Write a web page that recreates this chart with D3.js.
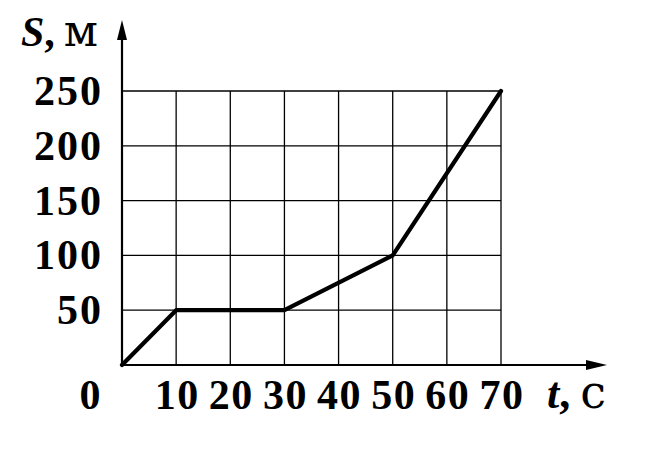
<!DOCTYPE html>
<html>
<head>
<meta charset="utf-8">
<script src="https://cdn.jsdelivr.net/npm/d3@7"></script>
<style>
html,body{margin:0;padding:0;background:#fff;}
text{font-family:"Liberation Serif","Times New Roman",serif;fill:#000;}
tspan.dv{font-family:"DejaVu Serif",serif;}
</style>
</head>
<body>
<svg id="chart" width="650" height="450"></svg>
<script>
const times = [0, 10, 30, 50, 70];
const distances = [0, 50, 50, 100, 250];
const xTicks = [10, 20, 30, 40, 50, 60, 70];
const yTicks = [50, 100, 150, 200, 250];

const svg = d3.select("#chart");
const x = d3.scaleLinear().domain([0, 70]).range([122, 501]);
const y = d3.scaleLinear().domain([0, 250]).range([365, 91]);

// grid
const g = svg.append("g").attr("stroke", "#000").attr("stroke-width", 1.3);
g.selectAll("line.v").data(xTicks).enter().append("line")
  .attr("x1", d => x(d)).attr("x2", d => x(d))
  .attr("y1", y(0)).attr("y2", y(250));
g.selectAll("line.h").data(yTicks).enter().append("line")
  .attr("x1", x(0)).attr("x2", x(70))
  .attr("y1", d => y(d)).attr("y2", d => y(d));

// axes with arrows
const ax = svg.append("g").attr("stroke", "#000").attr("stroke-width", 2.2);
ax.append("line").attr("x1", x(0)).attr("x2", 595).attr("y1", y(0)).attr("y2", y(0));
ax.append("line").attr("x1", x(0)).attr("x2", x(0)).attr("y1", y(0)).attr("y2", 34);
svg.append("path").attr("d", `M607,${y(0)} L586,${y(0)-5} L586,${y(0)+5} Z`).attr("fill", "#000");
svg.append("path").attr("d", `M${x(0)},20 L${x(0)-5},40 L${x(0)+5},40 Z`).attr("fill", "#000");

// data line
svg.append("path")
  .datum(times.map((t, i) => [t, distances[i]]))
  .attr("fill", "none").attr("stroke", "#000").attr("stroke-width", 4.2)
  .attr("stroke-linejoin", "round").attr("stroke-linecap", "round")
  .attr("d", d3.line().x(d => x(d[0])).y(d => y(d[1])));

// tick labels
const fs = 42;
svg.selectAll("text.yl").data(yTicks).enter().append("text")
  .attr("x", 103).attr("y", d => y(d) + 14)
  .attr("text-anchor", "end").attr("font-size", fs).attr("font-weight", "bold")
  .attr("letter-spacing", 2)
  .text(d => d);
svg.selectAll("text.xl").data(xTicks).enter().append("text")
  .attr("x", d => x(d) + 1).attr("y", 409)
  .attr("text-anchor", "middle").attr("font-size", fs).attr("font-weight", "bold")
  .attr("letter-spacing", 1.5)
  .text(d => d);
svg.append("text").attr("x", 90).attr("y", 409).attr("text-anchor", "middle")
  .attr("font-size", fs).attr("font-weight", "bold").text("0");

// axis titles
const ty = svg.append("text").attr("x", 21).attr("y", 46).attr("font-size", 42);
ty.append("tspan").attr("font-style", "italic").attr("font-weight", "bold").text("S");
ty.append("tspan").attr("font-weight", "bold").text(",");
ty.append("tspan").attr("class", "dv").attr("dx", 9).style("font-size", "44px").text("м");
const tx = svg.append("text").attr("x", 547).attr("y", 408).attr("font-size", 44);
tx.append("tspan").attr("font-style", "italic").attr("font-weight", "bold").text("t");
tx.append("tspan").attr("font-weight", "bold").text(",");
tx.append("tspan").attr("class", "dv").attr("dx", 10).style("font-size", "46px").text("c");
</script>
</body>
</html>
